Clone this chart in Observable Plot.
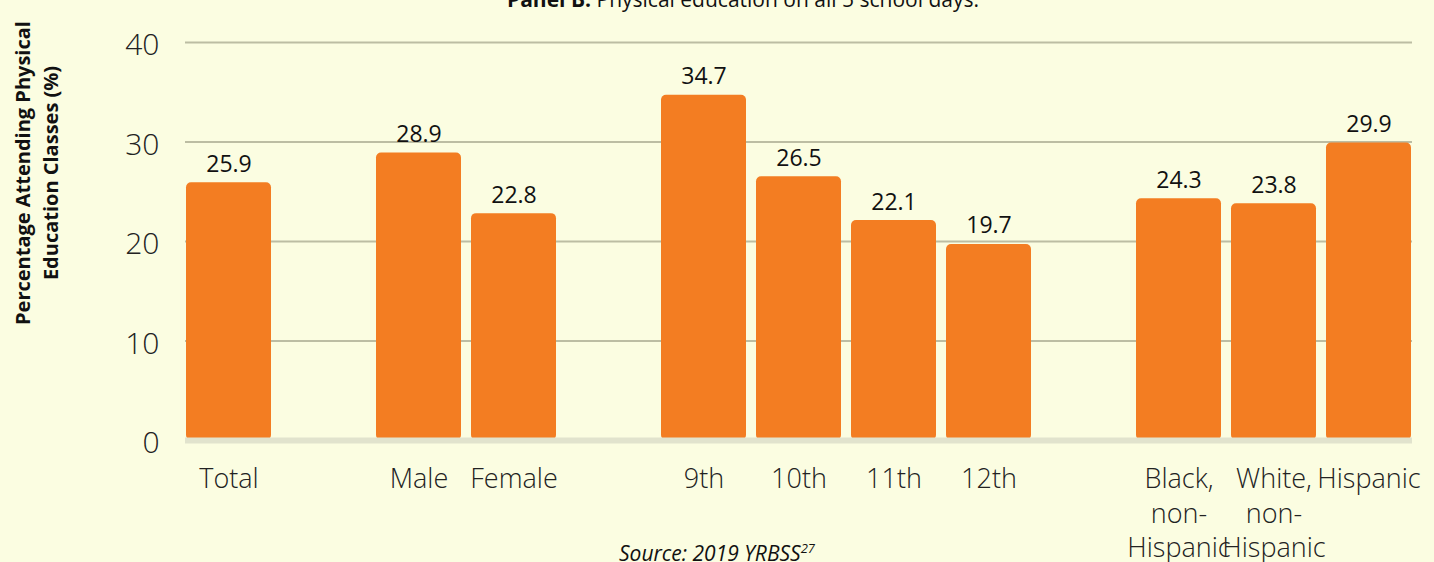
<!DOCTYPE html>
<html><head><meta charset="utf-8">
<script src="https://cdn.jsdelivr.net/npm/d3@7"></script>
<script src="https://cdn.jsdelivr.net/npm/@observablehq/plot@0.6"></script>
<style>
html,body{margin:0;padding:0;background:#fbfde1;}
#wrap{position:relative;width:1434px;height:562px;overflow:hidden;font-family:"Open Sans",sans-serif;color:#111;}
#chart{position:absolute;left:0;top:0;}
#title{position:absolute;left:507px;top:-11px;font-size:21px;line-height:21px;white-space:nowrap;}
#ylabel{position:absolute;left:-133px;top:145px;width:340px;height:56px;line-height:28px;font-size:20px;font-weight:700;text-align:center;transform:rotate(-90deg);white-space:nowrap;color:#111;}
#caption{position:absolute;left:0;width:1434px;top:543px;text-align:center;font-size:21px;line-height:21px;font-style:italic;}
#caption sup{font-size:13px;vertical-align:8px;line-height:0;}
</style></head><body>
<div id="wrap">
<div id="chart"></div>
<div id="title"><b>Panel B.</b> Physical education on all 5 school days.</div>
<div id="ylabel">Percentage Attending Physical<br>Education Classes (%)</div>
<div id="caption">Source: 2019 YRBSS<sup>27</sup></div>
</div>
<script>
const keys = ["Total","gap1","Male","Female","gap2","9th","10th","11th","12th","gap3","Black","White","Hispanic"];
const labels = ["Total","","Male","Female","","9th","10th","11th","12th","","Black,\nnon-\nHispanic","White,\nnon-\nHispanic","Hispanic"];
const values = [25.9, null, 28.9, 22.8, null, 34.7, 26.5, 22.1, 19.7, null, 24.3, 23.8, 29.9];
const yTicks = [0, 10, 20, 30, 40];

const labelMap = new Map(keys.map((k, i) => [k, labels[i]]));
const data = keys.map((k, i) => ({key: k, value: values[i]})).filter(d => d.value != null);

const chart = Plot.plot({
  width: 1434,
  height: 562,
  marginLeft: 185,
  marginRight: 22,
  marginTop: 42,
  marginBottom: 122,
  style: {background: "transparent", fontFamily: "'Open Sans', sans-serif", color: "#222"},
  x: {domain: keys, paddingInner: 0.11, paddingOuter: 0, axis: null, label: null},
  y: {domain: [0, 40], axis: null, label: null},
  marks: [
    Plot.ruleY(yTicks.filter(t => t > 0), {stroke: "#bcbda3", strokeWidth: 2}),
    Plot.barY(data, {x: "key", y: "value", fill: "#f37d22", rx: 5}),
    Plot.ruleY([0], {stroke: "#e1e3cd", strokeWidth: 6}),
    Plot.text(data, {x: "key", y: "value", text: d => d.value.toFixed(1), lineAnchor: "bottom", dy: -11, fontSize: 23, fill: "#111"}),
    Plot.axisY({ticks: yTicks, tickSize: 0, tickPadding: 26, fontSize: 30, fontWeight: 300, dy: 3, label: null}),
    Plot.axisX({tickSize: 0, tickPadding: 23, fontSize: 27, fontWeight: 300, lineHeight: 1.28, tickFormat: k => labelMap.get(k), label: null})
  ]
});
document.getElementById("chart").appendChild(chart);
</script>
</body></html>
